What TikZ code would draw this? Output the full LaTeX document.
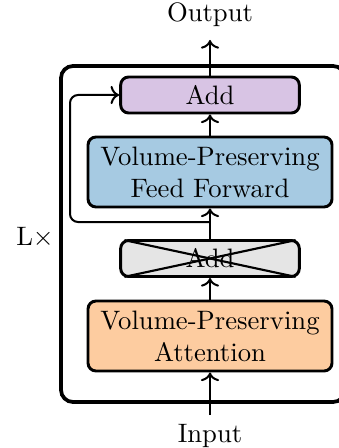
\documentclass[tikz,border=0pt]{standalone}
\usepackage{amsfonts,amssymb,amsmath}
\usepackage{xcolor}
\usetikzlibrary{arrows.meta}
\definecolor{addpurple}{RGB}{216,196,228}
\definecolor{ffblue}{RGB}{166,202,226}
\definecolor{attorange}{RGB}{253,204,160}
\definecolor{skipgray}{RGB}{229,229,229}

\begin{document}
\begin{tikzpicture}[x=0.375pt,y=-0.375pt,>={To},
  block/.style={draw,line width=1.1pt,rounded corners=3pt,align=center,inner sep=1pt},
  addbox/.style={block,minimum width=67pt,minimum height=13.5pt},
  bigbox/.style={block,minimum width=91.5pt,minimum height=26.25pt},
  flow/.style={->,line width=0.75pt}]
\useasboundingbox (0,0) rectangle (338,448);
% repeated layer
\draw[line width=1.4pt,rounded corners=4.5pt] (61,66) rectangle (345,402);
\node (att) [bigbox,fill=attorange] at (210,336) {Volume-Preserving\\Attention};
\node (addx) [addbox,fill=skipgray] at (210,258.5) {Add};
\draw[line width=0.8pt,shorten <=2pt,shorten >=2pt] (addx.north west)--(addx.south east);
\draw[line width=0.8pt,shorten <=2pt,shorten >=2pt] (addx.south west)--(addx.north east);
\node (ff) [bigbox,fill=ffblue] at (210,172) {Volume-Preserving\\Feed Forward};
\node (add) [addbox,fill=addpurple] at (210,95) {Add};
\node (lx) at (35,238) {L$\times$};
\node (out) at (210,15) {Output};
\node (in) at (210,436) {Input};
\coordinate (inbot) at (210,415);
\coordinate (outtop) at (210,40);
\coordinate (split) at (210,222);
\coordinate (skip) at (70,222);
\draw[flow] (inbot)--(att.south);
\draw[flow] (att.north)--(addx.south);
\draw[flow] (addx.north)--(ff.south);
\draw[flow] (ff.north)--(add.south);
\draw[flow] (add.north)--(outtop);
\draw[flow,rounded corners=3pt] (split)--(skip)|-(add.west);
\end{tikzpicture}
\end{document}
